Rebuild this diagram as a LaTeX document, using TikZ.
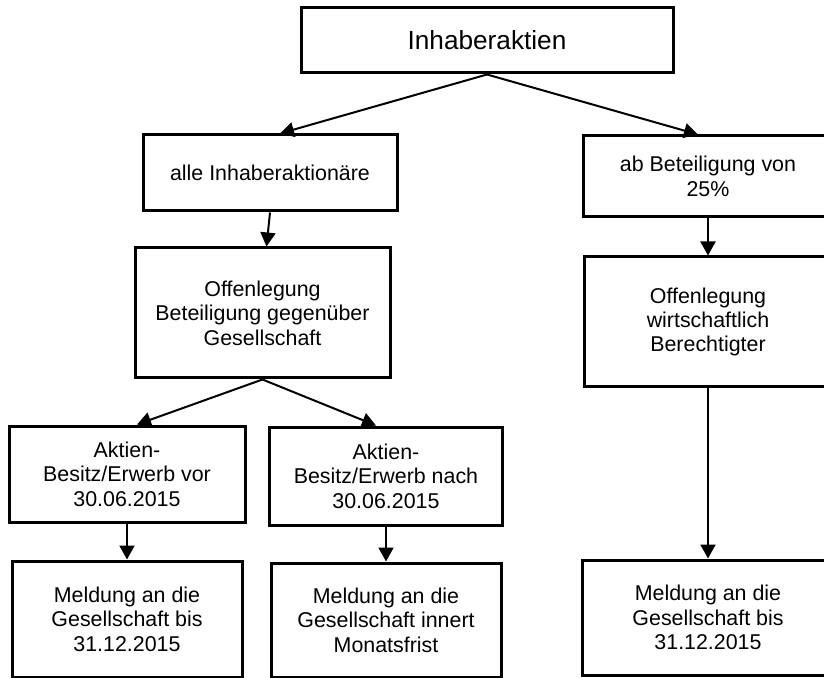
\documentclass[tikz,border=0pt]{standalone}
\usepackage{fontspec}
\setmainfont{Liberation Sans}
\usetikzlibrary{arrows.meta}

\begin{document}
\begin{tikzpicture}[x=0.5pt,y=-0.5pt,
	box/.style={draw,line width=1.5pt,align=center,inner sep=0pt,font=\fontsize{10.7}{12.2}\selectfont},
	pfeil/.style={-{Triangle[length=7pt,width=7.5pt]},line width=1pt}]
			\useasboundingbox (0,0) rectangle (824,678);
			\node at (487,40.5) [box,minimum width=186pt,minimum height=32.5pt,font=\fontsize{13.1}{15}\selectfont] (top) {Inhaberaktien};
			\node at (270,173) [box,minimum width=127pt,minimum height=38pt] (alle) {alle Inhaberaktion\"are};
			\node at (708,176.5) [box,minimum width=125pt,minimum height=40.5pt] (ab) {ab Beteiligung von\\25\%};
			\node at (262.5,313) [box,minimum width=127.5pt,minimum height=65pt] (offl) {Offenlegung\\Beteiligung gegen\"uber\\Gesellschaft};
			\node at (708,322) [box,minimum width=124pt,minimum height=65pt] (offr) {Offenlegung\\wirtschaftlich\\Berechtigter};
			\node at (127,474) [box,minimum width=118pt,minimum height=48pt] (vor) {Aktien-\\Besitz/Erwerb vor\\30.06.2015};
			\node at (386,476) [box,minimum width=116.5pt,minimum height=49pt] (nach) {Aktien-\\Besitz/Erwerb nach\\30.06.2015};
			\node at (127,619) [box,minimum width=115pt,minimum height=58pt] (mvor) {Meldung an die\\Gesellschaft bis\\31.12.2015};
			\node at (386,620) [box,minimum width=115pt,minimum height=57pt] (mnach) {Meldung an die\\Gesellschaft innert\\Monatsfrist};
			\node at (708,617.5) [box,minimum width=126pt,minimum height=57.5pt] (mab) {Meldung an die\\Gesellschaft bis\\31.12.2015};
			\draw[pfeil] (top.south) -- ([xshift=5pt]alle.north);
			\draw[pfeil] (top.south) -- ([xshift=-5pt]ab.north);
			\draw[pfeil] (alle.south) -- ([xshift=2pt]offl.north);
			\draw[pfeil] (ab.south) -- (offr.north);
			\draw[pfeil] (offl.south) -- ([xshift=5pt]vor.north);
			\draw[pfeil] (offl.south) -- ([xshift=-5pt]nach.north);
			\draw[pfeil] (vor.south) -- (mvor.north);
			\draw[pfeil] (nach.south) -- (mnach.north);
			\draw[pfeil] (offr.south) -- (mab.north);
		\end{tikzpicture}
\end{document}
